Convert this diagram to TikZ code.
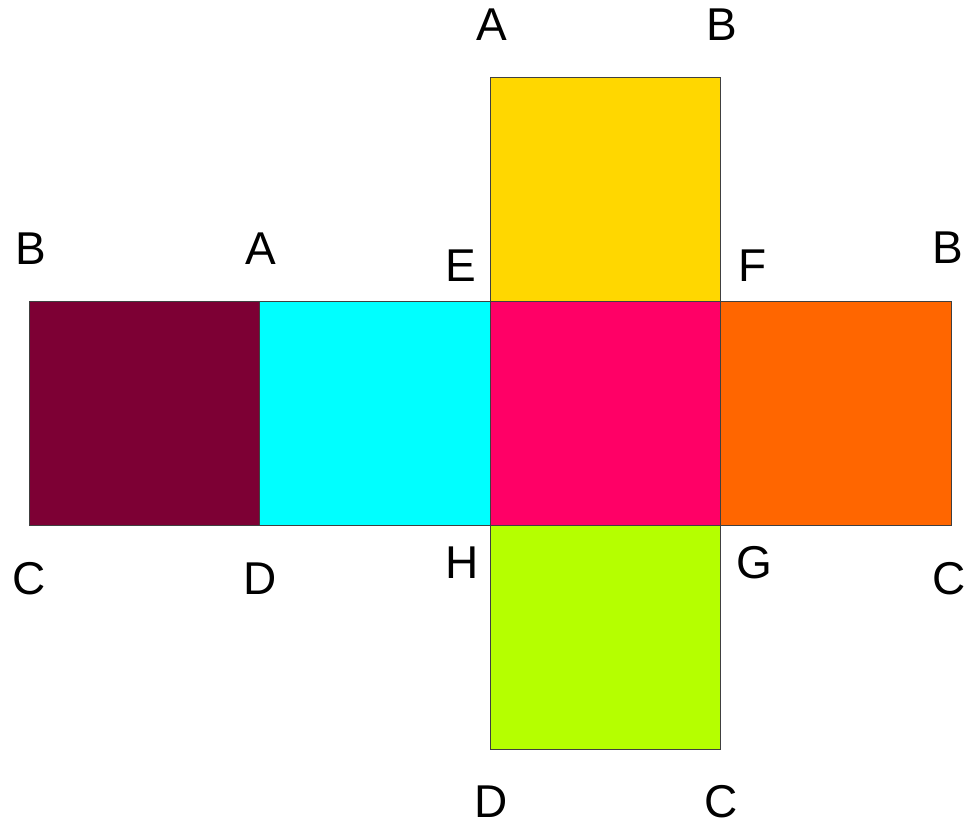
\documentclass[tikz,border=0pt]{standalone}
\usepackage{fontspec}
\setmainfont{Liberation Sans}
\definecolor{cmaroon}{RGB}{125,0,52}
\definecolor{ccyan}{RGB}{0,255,255}
\definecolor{cpink}{RGB}{255,0,102}
\definecolor{corange}{RGB}{255,102,0}
\definecolor{cyellow}{RGB}{255,215,0}
\definecolor{clime}{RGB}{181,255,0}
\tikzset{
  face/.style={rectangle, draw=black!75, line width=0.8pt, inner sep=0pt, outer sep=0pt,
    minimum width=230.5pt, minimum height=224pt},
  lbl/.style={inner sep=0pt, outer sep=0pt, anchor=center, font=\fontsize{46}{50}\selectfont}
}
\begin{document}
\begin{tikzpicture}[x=1pt,y=-1pt]
\useasboundingbox (0,0) rectangle (977,830);
\node[face, fill=cmaroon] (f1) at (144.5,413) {};
\node[face, fill=ccyan] (f2) at (375,413) {};
\node[face, fill=cpink] (f3) at (605.5,413) {};
\node[face, fill=corange] (f4) at (836,413) {};
\node[face, fill=cyellow] (f5) at (605.5,189) {};
\node[face, fill=clime] (f6) at (605.5,637) {};
% labels
\node[lbl] (t1) at (492,24.5) {A};
\node[lbl] (t2) at (722,24.5) {B};
\node[lbl] (t3) at (31,249) {B};
\node[lbl] (t4) at (261,249) {A};
\node[lbl] (t5) at (461,266) {E};
\node[lbl] (t6) at (753,266) {F};
\node[lbl] (t7) at (948,248) {B};
\node[lbl] (t8) at (29,579) {C};
\node[lbl] (t9) at (260,579) {D};
\node[lbl] (t10) at (462,562.5) {H};
\node[lbl] (t11) at (754,562.5) {G};
\node[lbl] (t12) at (949,579) {C};
\node[lbl] (t13) at (491,802) {D};
\node[lbl] (t14) at (721,802) {C};
\end{tikzpicture}
\end{document}
